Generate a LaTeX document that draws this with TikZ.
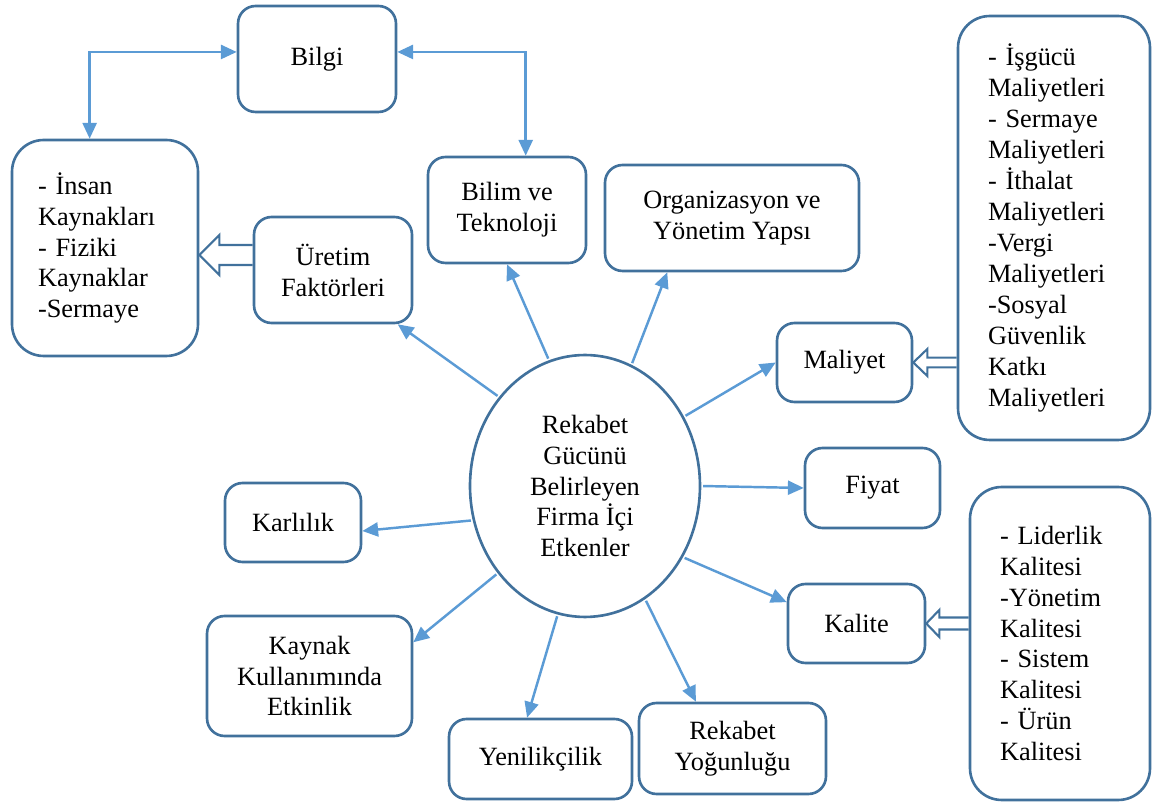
\documentclass[tikz,border=0pt]{standalone}
\usepackage{fontspec}
\setmainfont{Liberation Serif}
\usepackage{xcolor}
\definecolor{edge}{HTML}{41719C}
\definecolor{okcol}{HTML}{5B9BD5}
\usepackage{tikz}
\usetikzlibrary{shapes.geometric, arrows.meta, calc}

% hollow block arrow: from #1 (west side) to #2 (east side), #6 = vertical shift
\newcommand{\hollowarrow}[6]{%
  \draw[hollow] let \p1=(#1.west), \p2=($(#2.east)+(0,#6)$) in
    (\x1,\y2+#3) -- (\x2+#5,\y2+#3) -- (\x2+#5,\y2+#4) -- (\x2,\y2)
    -- (\x2+#5,\y2-#4) -- (\x2+#5,\y2-#3) -- (\x1,\y2-#3);}

\begin{document}
\begin{tikzpicture}[
    x=0.02cm, y=-0.02cm,
    font=\fontsize{15}{17.6}\selectfont,
    kutu/.style={draw=edge, line width=1.5pt, rounded corners=10pt,
        align=center, inner sep=2pt},
    liste/.style={draw=edge, line width=1.5pt, rounded corners=18pt,
        align=left, inner ysep=0pt},
    arr/.style={-{Triangle[length=9pt,width=8pt]}, line width=1.4pt, okcol,
        shorten <=1pt},
    hollow/.style={draw=edge, line width=1.2pt, line join=miter}
]
\useasboundingbox (0,0) rectangle (1157,803);

\node[ellipse, draw=edge, line width=1.5pt, inner sep=0pt, align=center,
    minimum width=4.6cm, minimum height=5.24cm] (firma) at (585,486)
    {Rekabet\\Gücünü\\Belirleyen\\Firma İçi\\Etkenler};

\node[kutu, minimum width=3.16cm, minimum height=2.12cm] (bilgi) at (317,59) {Bilgi};
\node[kutu, minimum width=3.16cm, minimum height=2.12cm] (uretim) at (333,270) {Üretim\\Faktörleri};
\node[kutu, minimum width=3.16cm, minimum height=2.12cm] (bilim) at (507,210) {Bilim ve\\Teknoloji};
\node[kutu, minimum width=5.08cm, minimum height=2.12cm] (orgyap) at (732,218) {Organizasyon ve\\Yönetim Yapsı};
\node[kutu, minimum width=2.7cm, minimum height=1.58cm] (maliyet) at (844.5,362.5) {Maliyet};
\node[kutu, minimum width=2.7cm, minimum height=1.6cm] (fiyat) at (872.5,488) {Fiyat};
\node[kutu, minimum width=2.74cm, minimum height=1.58cm] (kalite) at (856.5,623.5) {Kalite};
\node[kutu, minimum width=2.72cm, minimum height=1.58cm] (karlilik) at (293,522.5) {Karlılık};
\node[kutu, minimum width=4.1cm, minimum height=2.4cm] (kaynak) at (309.5,676) {Kaynak\\Kullanımında\\Etkinlik};
\node[kutu, minimum width=3.66cm, minimum height=1.6cm] (yenilik) at (540.5,759) {Yenilikçilik};
\node[kutu, minimum width=3.74cm, minimum height=1.82cm] (rekyog) at (732.5,748.5) {Rekabet\\Yoğunluğu};

\node[liste, inner xsep=0.52cm, text width=2.68cm, minimum height=4.32cm] (kaynaklar) at (105,248)
    {- İnsan\\Kaynakları\\- Fiziki\\Kaynaklar\\-Sermaye};
\node[liste, inner xsep=0.6cm, text width=2.64cm, minimum height=8.48cm] (maliyetler) at (1054,228)
    {- İşgücü\\Maliyetleri\\- Sermaye\\Maliyetleri\\- İthalat\\Maliyetleri\\-Vergi\\Maliyetleri\\-Sosyal\\Güvenlik\\Katkı\\Maliyetleri};
\node[liste, inner xsep=0.6cm, text width=2.4cm, minimum height=6.26cm] (kaliteler) at (1060,643.5)
    {- Liderlik\\Kalitesi\\-Yönetim\\Kalitesi\\- Sistem\\Kalitesi\\- Ürün\\Kalitesi};

% Bilgi links
\draw[arr, {Triangle[length=9pt,width=8pt]}-{Triangle[length=9pt,width=8pt]}, shorten <=0pt]
    (bilgi.175) -| (kaynaklar.98);
\draw[arr, {Triangle[length=9pt,width=8pt]}-{Triangle[length=9pt,width=8pt]}, shorten <=0pt]
    (bilgi.5) -| (bilim.71);

% from the centre
\draw[arr] (firma.134) -- (uretim.-40.5);
\draw[arr] (firma.106) -- (bilim.south);
\draw[arr] (firma.69) -- (orgyap.-140.4);
\draw[arr] (firma.35) -- (maliyet.west);
\draw[arr] (firma.0) -- (fiyat.west);
\draw[arr] (firma.-36) -- (kalite.163);
\draw[arr] (firma.-62) -- (rekyog.128);
\draw[arr] (firma.-102) -- (yenilik.108.6);
\draw[arr] (firma.-135) -- (kaynak.18);
\draw[arr] (firma.-163.5) -- (karlilik.-7);

% block arrows
\hollowarrow{uretim}{kaynaklar}{5.7pt}{11.4pt}{11.4pt}{7}
\hollowarrow{maliyetler}{maliyet}{2.8pt}{7.7pt}{8pt}{0}
\hollowarrow{kaliteler}{kalite}{3.4pt}{7.7pt}{7.4pt}{0}
\end{tikzpicture}
\end{document}
